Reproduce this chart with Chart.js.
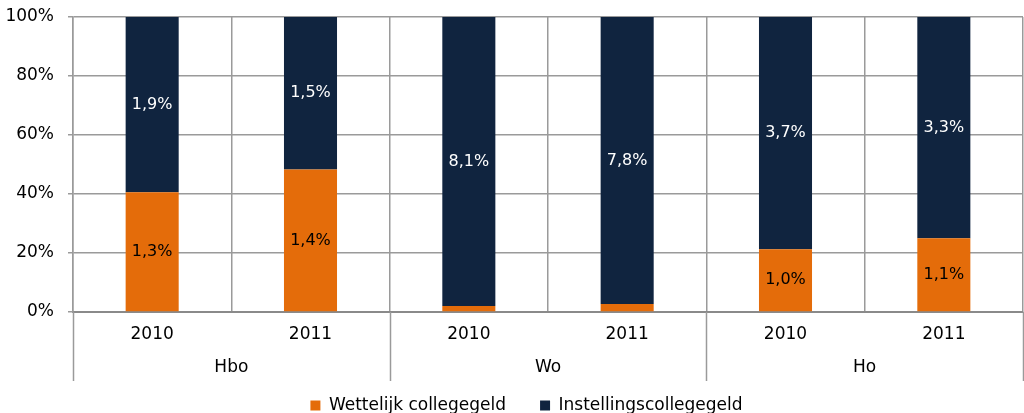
<!DOCTYPE html>
<html><head><meta charset="utf-8">
<style>html,body{margin:0;padding:0;background:#fff}#wrap{width:1024px;height:413px}</style>
<script src="https://cdn.jsdelivr.net/npm/chart.js@4.4.0/dist/chart.umd.min.js"></script>
</head><body><div id="wrap"><canvas id="c" width="1024" height="413"></canvas></div>
<script>
// ---- data ----
const years = ['2010', '2011', '2010', '2011', '2010', '2011'];
const groups = ['Hbo', 'Wo', 'Ho'];
const wettelijk = [1.3, 1.4, 0.17, 0.22, 1.0, 1.1];
const instellings = [1.9, 1.5, 8.1, 7.8, 3.7, 3.3];
const seriesNames = ['Wettelijk collegegeld', 'Instellingscollegegeld'];
const yTicks = [0, 20, 40, 60, 80, 100];

const FONT = 'DejaVu Sans, Verdana, sans-serif';
const ORANGE = '#E46C0A';
const NAVY = '#10243F';
const GRID = '#9A9A9A';

const totals = wettelijk.map((v, i) => v + instellings[i]);
const shareW = wettelijk.map((v, i) => v / totals[i] * 100);
const shareI = instellings.map((v, i) => v / totals[i] * 100);
const fmt = v => v.toFixed(1).replace('.', ',') + '%';

const labelPlugin = {
  id: 'segLabels',
  afterDatasetsDraw(chart) {
    const ctx = chart.ctx;
    ctx.save();
    ctx.font = '16px ' + FONT;
    ctx.textAlign = 'center';
    ctx.textBaseline = 'middle';
    chart.data.datasets.forEach((ds, di) => {
      const meta = chart.getDatasetMeta(di);
      meta.data.forEach((bar, i) => {
        const h = Math.abs(bar.base - bar.y);
        if (h < 20) return;
        ctx.fillStyle = di === 0 ? '#000' : '#fff';
        ctx.fillText(fmt(ds.raw[i]), bar.x, (bar.y + bar.base) / 2);
      });
    });
    ctx.restore();
  }
};

const groupPlugin = {
  id: 'groups',
  afterDraw(chart) {
    const ctx = chart.ctx;
    const xs = chart.scales.x;
    const n = years.length;
    const w = (xs.right - xs.left) / n;
    const bottom = chart.chartArea.bottom;
    ctx.save();
    ctx.strokeStyle = GRID;
    ctx.lineWidth = 1.5;
    for (let g = 0; g <= groups.length; g++) {
      const x = Math.round(xs.left + g * 2 * w) + 0.5;
      ctx.beginPath();
      ctx.moveTo(x, bottom);
      ctx.lineTo(x, 381);
      ctx.stroke();
    }
    ctx.fillStyle = '#000';
    ctx.font = '17px ' + FONT;
    ctx.textAlign = 'center';
    ctx.textBaseline = 'middle';
    groups.forEach((g, gi) => {
      const cx = (xs.getPixelForValue(2 * gi) + xs.getPixelForValue(2 * gi + 1)) / 2;
      ctx.fillText(g, cx, 368);
    });
    ctx.restore();
  }
};

const legendFit = {
  id: 'legendFit',
  beforeLayout(chart) {
    const lg = chart.legend;
    if (lg && !lg._patched) {
      const origFit = lg.fit;
      lg.fit = function () { origFit.call(this); this.height = 50; };
      const origDraw = lg.draw;
      lg.draw = function () {
        const ctx = this.ctx;
        ctx.save();
        ctx.translate(15, 0);
        origDraw.call(this);
        ctx.restore();
      };
      lg._patched = true;
    }
  }
};

new Chart(document.getElementById('c'), {
  type: 'bar',
  data: {
    labels: years,
    datasets: [
      { label: seriesNames[0], data: shareW, raw: wettelijk, backgroundColor: ORANGE,
        categoryPercentage: 1, barPercentage: 0.335 },
      { label: seriesNames[1], data: shareI, raw: instellings, backgroundColor: NAVY,
        categoryPercentage: 1, barPercentage: 0.335 }
    ]
  },
  options: {
    responsive: false,
    animation: false,
    devicePixelRatio: 1,
    layout: { padding: { top: 17, right: 1, left: 0, bottom: 0 } },
    plugins: {
      tooltip: { enabled: false },
      legend: {
        position: 'bottom',
        labels: { boxWidth: 10, boxHeight: 10, color: '#000', padding: 34,
          font: { family: FONT, size: 17 } }
      }
    },
    scales: {
      x: {
        stacked: true,
        grid: { color: GRID, lineWidth: 1.5, offset: true, drawTicks: false },
        border: { color: '#8A8A8A', width: 2 },
        ticks: { color: '#000', font: { family: FONT, size: 17 }, padding: 12 },
        afterFit(s) { s.height = 51; }
      },
      y: {
        stacked: true,
        min: 0, max: 100,
        afterBuildTicks(s) { s.ticks = yTicks.map(v => ({ value: v })); },
        grid: { color: GRID, lineWidth: 1.5, tickLength: 5 },
        border: { color: GRID, width: 1.5 },
        ticks: { color: '#000', font: { family: FONT, size: 17 }, padding: 14,
          callback: v => v + '%' },
        afterFit(s) { s.width = 73; s.paddingTop = 0; s.paddingBottom = 0; }
      }
    }
  },
  plugins: [legendFit, labelPlugin, groupPlugin]
});
</script></body></html>
